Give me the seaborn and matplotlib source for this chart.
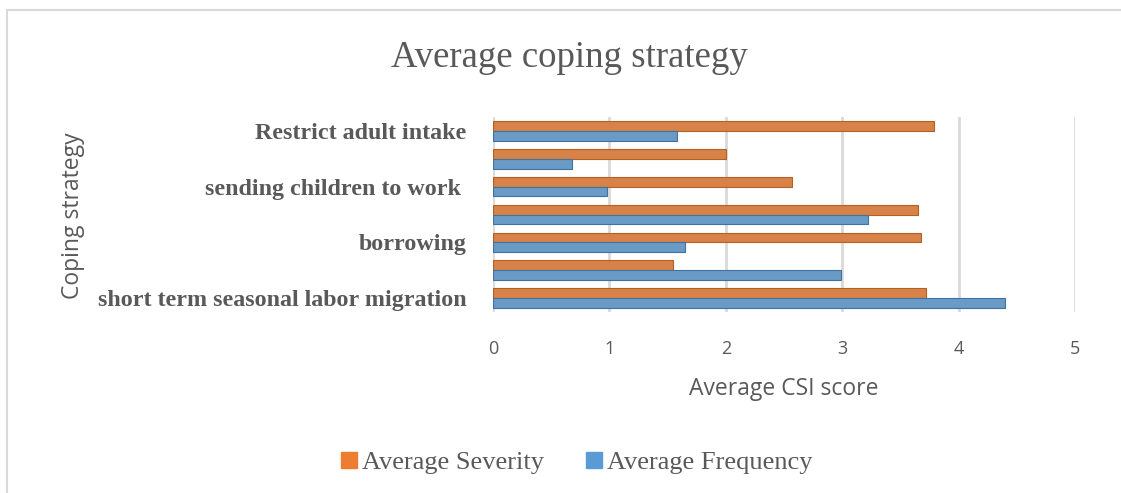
import matplotlib
matplotlib.use("Agg")
import matplotlib.pyplot as plt
import matplotlib.lines as mlines
import seaborn as sns
import pandas as pd

strategies = ["Restrict adult intake", "strategy 6", "sending children to work ",
              "strategy 4", "borrowing", "strategy 2",
              "short term seasonal labor migration"]
tick_labels = ["Restrict adult intake", "", "sending children to work ",
               "", "borrowing", "", "short term seasonal labor migration"]
severity = [3.79, 2.00, 2.57, 3.65, 3.68, 1.55, 3.72]
frequency = [1.58, 0.68, 0.98, 3.22, 1.65, 2.99, 4.40]
series = ["Average Severity", "Average Frequency"]
colors = ["#ED7D31", "#5B9BD5"]
edges = ["#B85F22", "#41729F"]

df = pd.DataFrame({
    "strategy": strategies * 2,
    "series": [series[0]] * len(strategies) + [series[1]] * len(strategies),
    "value": severity + frequency,
})

sns.set_theme(style="white")
plt.rcParams["font.family"] = ["DejaVu Sans"]

fig = plt.figure(figsize=(11.21, 4.93), dpi=100)
ax = fig.add_axes([493 / 1121, 1 - 312 / 493, (1075 - 493) / 1121, (312 - 117) / 493])

sns.barplot(data=df, y="strategy", x="value", hue="series", order=strategies,
            hue_order=series, palette=colors, orient="h", width=0.7,
            errorbar=None, ax=ax, legend=False, zorder=3)
for i, cont in enumerate(ax.containers):
    for p in cont:
        p.set_edgecolor(edges[i])
        p.set_linewidth(0.8)

ax.set_xlim(0, 5)
ax.set_ylim(6.5, -0.5)
ax.set_xticks([0, 1, 2, 3, 4, 5])
ax.set_xticklabels(["0", "1", "2", "3", "4", "5"], family="Open Sans",
                   fontsize=13, color="#595959")
ax.set_yticks(range(len(strategies)))
ax.set_yticklabels(tick_labels, family="Liberation Serif", fontweight="bold",
                   fontsize=17.3, color="#595959")
ax.tick_params(axis="x", length=0, pad=20)
ax.tick_params(axis="y", length=0, pad=19)
ax.grid(axis="x", color="#D9D9D9", linewidth=2, zorder=0)
ax.grid(axis="y", visible=False)
for s in ax.spines.values():
    s.set_visible(False)

ax.set_xlabel("Average CSI score", family="Open Sans", fontsize=16.5,
              color="#595959", labelpad=14)
ax.set_ylabel("")
fig.text(73 / 1121, 1 - 216 / 493, "Coping strategy", rotation=90,
         ha="center", va="center", family="Open Sans", fontsize=16.5,
         color="#595959")

fig.text(569 / 1121, 1 - 58 / 493, "Average coping strategy", ha="center",
         va="center", family="Liberation Serif", fontsize=26.5, color="#595959")

handles = [mlines.Line2D([], [], marker="s", linestyle="none", markersize=11,
                         markerfacecolor=c, markeredgecolor=c) for c in colors]
fig.legend(handles, series, loc="center", bbox_to_anchor=(574 / 1121, 1 - 462 / 493),
           ncol=2, frameon=False, prop={"family": "Liberation Serif", "size": 19},
           labelcolor="#595959", handletextpad=0.0, columnspacing=1.4,
           handlelength=1.0)

# chart area border (top and left visible)
fig.add_artist(mlines.Line2D([7 / 1121, 1], [1 - 10 / 493, 1 - 10 / 493],
                             transform=fig.transFigure, color="#D9D9D9", linewidth=1.5))
fig.add_artist(mlines.Line2D([7 / 1121, 7 / 1121], [0, 1 - 10 / 493],
                             transform=fig.transFigure, color="#D9D9D9", linewidth=1.5))

fig.savefig("out.png", dpi=100)
